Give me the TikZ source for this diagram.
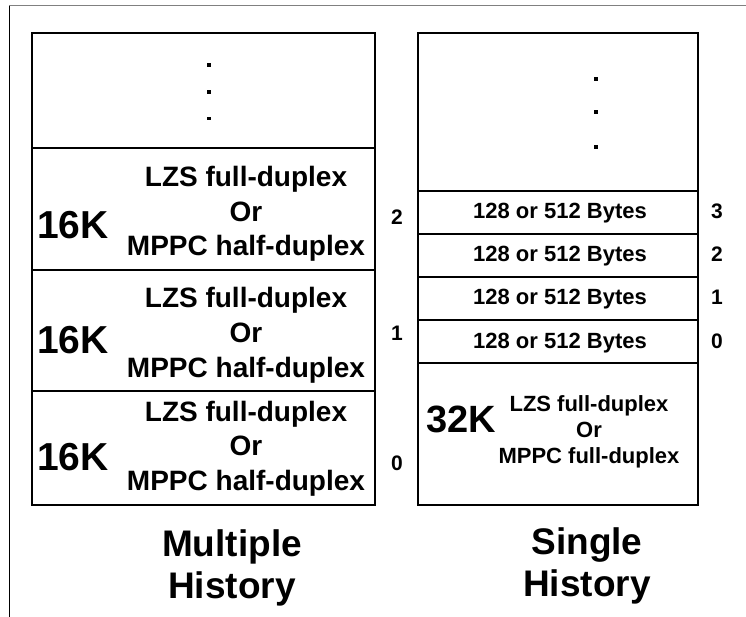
\documentclass[tikz,border=0pt]{standalone}
\usepackage{fontspec}
\setmainfont{Liberation Sans}
\begin{document}
\begin{tikzpicture}[x=1pt,y=-1pt,
  cell/.style={draw=black,line width=1.8pt,rectangle,inner sep=0pt,anchor=north west},
  txt/.style={inner sep=0pt,anchor=base,font=\bfseries\fontsize{#1}{#1}\selectfont},
  numl/.style={inner sep=0pt,anchor=base,font=\bfseries\fontsize{21}{21}\selectfont},
  bigk/.style={inner sep=0pt,anchor=base west,font=\bfseries\fontsize{#1}{#1}\selectfont},
  title/.style={inner sep=0pt,anchor=base,font=\bfseries\fontsize{37}{37}\selectfont},
  dotmark/.style={fill=black,rectangle,inner sep=0pt,minimum size=#1}]
\useasboundingbox (0,0) rectangle (746,617);
% outer frame
\draw[black!50,line width=1pt] (9,6) -- (746,6);
\draw[black,line width=1pt] (9.5,6) -- (9.5,617);
% left column cells
\node[cell,minimum width=343pt,minimum height=115pt] (L0) at (31,32) {};
\node[cell,minimum width=343pt,minimum height=122pt] (L1) at (31,147) {};
\node[cell,minimum width=343pt,minimum height=121pt] (L2) at (31,269) {};
\node[cell,minimum width=343pt,minimum height=114pt] (L3) at (31,390) {};
% right column cells
\node[cell,minimum width=280pt,minimum height=158pt] (R0) at (417,32) {};
\node[cell,minimum width=280pt,minimum height=43pt] (R1) at (417,190) {};
\node[cell,minimum width=280pt,minimum height=43pt] (R2) at (417,233) {};
\node[cell,minimum width=280pt,minimum height=43pt] (R3) at (417,276) {};
\node[cell,minimum width=280pt,minimum height=43pt] (R4) at (417,319) {};
\node[cell,minimum width=280pt,minimum height=142pt] (R5) at (417,362) {};
% dots
\node[dotmark=3.5pt] (ld1) at (209,65) {};
\node[dotmark=3.5pt] (ld2) at (209,92) {};
\node[dotmark=3.5pt] (ld3) at (209,118.5) {};
\node[dotmark=4pt] (rd1) at (596,79) {};
\node[dotmark=4pt] (rd2) at (596,112) {};
\node[dotmark=4pt] (rd3) at (596,147) {};
% left cell texts
\node[bigk=39] (k1) at (37,239) {16K};
\node[txt=28] (a1) at (246,187) {LZS full-duplex};
\node[txt=28] (b1) at (246,221.5) {Or};
\node[txt=28] (c1) at (246,256) {MPPC half-duplex};
\node[bigk=39] (k2) at (37,353) {16K};
\node[txt=28] (a2) at (246,308) {LZS full-duplex};
\node[txt=28] (b2) at (246,342.5) {Or};
\node[txt=28] (c2) at (246,377) {MPPC half-duplex};
\node[bigk=39] (k3) at (37,470) {16K};
\node[txt=28] (a3) at (246,421) {LZS full-duplex};
\node[txt=28] (b3) at (246,455.5) {Or};
\node[txt=28] (c3) at (246,490) {MPPC half-duplex};
% left numbers
\node[numl] (n2) at (397,225) {2};
\node[numl] (n1) at (397,340) {1};
\node[numl] (n0) at (397,470) {0};
% right rows
\node[txt=22] (r3) at (560,219) {128 or 512 Bytes};
\node[txt=22] (r2) at (560,262) {128 or 512 Bytes};
\node[txt=22] (r1) at (560,305) {128 or 512 Bytes};
\node[txt=22] (r0) at (560,348) {128 or 512 Bytes};
\node[numl] (m3) at (717,219) {3};
\node[numl] (m2) at (717,262) {2};
\node[numl] (m1) at (717,305) {1};
\node[numl] (m0) at (717,348) {0};
% right bottom cell
\node[bigk=38] (k32) at (426,432) {32K};
\node[txt=22] (ra) at (589,411) {LZS full-duplex};
\node[txt=22] (rb) at (589,437) {Or};
\node[txt=22] (rc) at (589,463) {MPPC full-duplex};
% titles
\node[title] (t1) at (232,556) {Multiple};
\node[title] (t2) at (232,598) {History};
\node[title] (t3) at (587,554) {Single};
\node[title] (t4) at (587,596) {History};
\end{tikzpicture}
\end{document}
